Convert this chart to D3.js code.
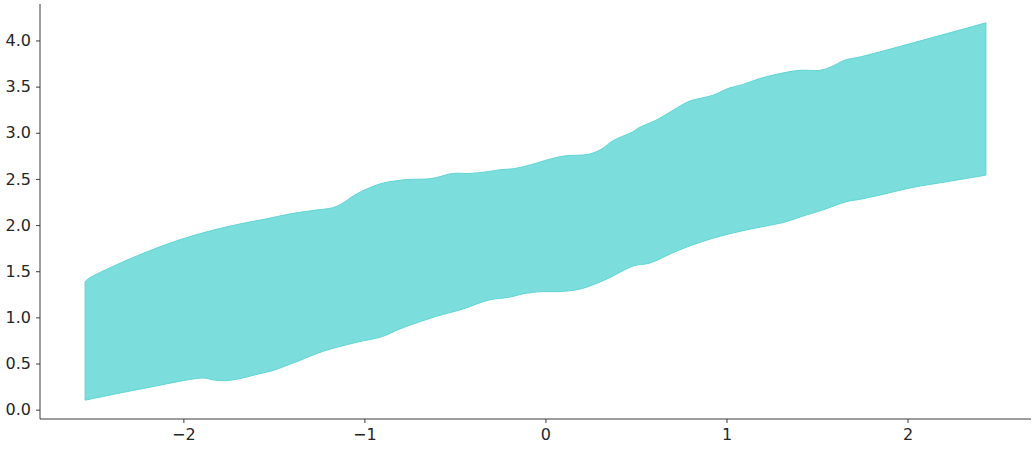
<!DOCTYPE html>
<html>
<head>
<meta charset="utf-8">
<script src="https://cdn.jsdelivr.net/npm/d3@7"></script>
<style>
  body { margin: 0; background: #fff; }
  svg text { font-family: "DejaVu Sans", sans-serif; }
</style>
</head>
<body>
<div id="chart"></div>
<script>
// limites des axes
const xLim = [-2.792, 2.682];
const yLim = [-0.101, 4.395];
const xTicks = [-2, -1, 0, 1, 2];
const yTicks = [0, 0.5, 1, 1.5, 2, 2.5, 3, 3.5, 4];

// bord supérieur de la bande
const upperX = [-2.543, -2.521, -2.392, -2.208, -2.024, -1.840, -1.655, -1.545, -1.416, -1.269,
  -1.177, -1.122, -1.048, -0.919, -0.827, -0.753, -0.643, -0.588, -0.514, -0.422,
  -0.329, -0.238, -0.182, -0.090, -0.072, 0.094, 0.241, 0.315, 0.370, 0.481,
  0.518, 0.610, 0.794, 0.849, 0.923, 1.015, 1.088, 1.181, 1.273, 1.402,
  1.512, 1.567, 1.660, 1.733, 2.433];
const upperY = [1.387, 1.424, 1.549, 1.705, 1.838, 1.943, 2.025, 2.065, 2.119, 2.162,
  2.187, 2.235, 2.332, 2.443, 2.479, 2.494, 2.501, 2.522, 2.559, 2.559,
  2.576, 2.602, 2.609, 2.649, 2.659, 2.746, 2.768, 2.829, 2.911, 3.009,
  3.056, 3.135, 3.341, 3.370, 3.405, 3.484, 3.521, 3.586, 3.632, 3.676,
  3.676, 3.705, 3.791, 3.819, 4.191];

// bord inférieur de la bande
const lowerX = [-2.543, -2.208, -1.886, -1.840, -1.766, -1.674, -1.582, -1.508, -1.434, -1.361,
  -1.232, -1.048, -0.901, -0.808, -0.606, -0.459, -0.311, -0.200, -0.127, -0.017,
  0.076, 0.194, 0.327, 0.490, 0.572, 0.739, 0.923, 1.107, 1.273, 1.328,
  1.439, 1.530, 1.660, 1.733, 1.844, 2.028, 2.212, 2.433];
const lowerY = [0.103, 0.235, 0.343, 0.324, 0.314, 0.343, 0.389, 0.422, 0.476, 0.530,
  0.630, 0.728, 0.792, 0.872, 1.009, 1.089, 1.189, 1.218, 1.254, 1.279,
  1.279, 1.308, 1.405, 1.560, 1.586, 1.730, 1.856, 1.946, 2.011, 2.036,
  2.108, 2.162, 2.252, 2.278, 2.324, 2.408, 2.468, 2.541];

const width = 1035, height = 450;
const margin = {top: 4, right: 4, bottom: 31, left: 40};

const svg = d3.select("#chart").append("svg")
  .attr("width", width)
  .attr("height", height);

const x = d3.scaleLinear().domain(xLim).range([margin.left, width - margin.right]);
const y = d3.scaleLinear().domain(yLim).range([height - margin.bottom, margin.top]);

// bande HDI : bord haut puis bord bas à l'envers
const upper = upperX.map((v, i) => [v, upperY[i]]);
const lower = lowerX.map((v, i) => [v, lowerY[i]]).reverse();
const edge = d3.line()
  .x(d => x(d[0]))
  .y(d => y(d[1]))
  .curve(d3.curveCatmullRom.alpha(0.5));
const bandPath = edge(upper) + edge(lower).replace(/^M/, "L") + "Z";

svg.append("path")
  .attr("d", bandPath)
  .attr("fill", "#7bdedd")
  .attr("stroke", "#5fd5d3")
  .attr("stroke-width", 1)
  .attr("stroke-linejoin", "round");

// axes
const fmtX = d => d < 0 ? "\u2212" + Math.abs(d) : String(d);
const xAxis = svg.append("g")
  .attr("transform", `translate(0,${height - margin.bottom})`)
  .call(d3.axisBottom(x).tickValues(xTicks).tickFormat(fmtX).tickSizeOuter(0).tickSize(4).tickPadding(6));
const yAxis = svg.append("g")
  .attr("transform", `translate(${margin.left},0)`)
  .call(d3.axisLeft(y).tickValues(yTicks).tickFormat(d3.format(".1f")).tickSizeOuter(0).tickSize(4).tickPadding(5));

[xAxis, yAxis].forEach(g => {
  g.select(".domain").attr("stroke", "#3a3a3a").attr("stroke-width", 1);
  g.selectAll(".tick line").attr("stroke", "#3a3a3a");
  g.selectAll(".tick text")
    .attr("fill", "#262626")
    .style("font-size", "16px")
    .style("font-family", "DejaVu Sans");
});
// spine gauche jusqu'en haut
yAxis.select(".domain").attr("d", `M0,${margin.top}V${height - margin.bottom}`);
xAxis.select(".domain").attr("d", `M${margin.left},0H${width - margin.right}`);
</script>
</body>
</html>
